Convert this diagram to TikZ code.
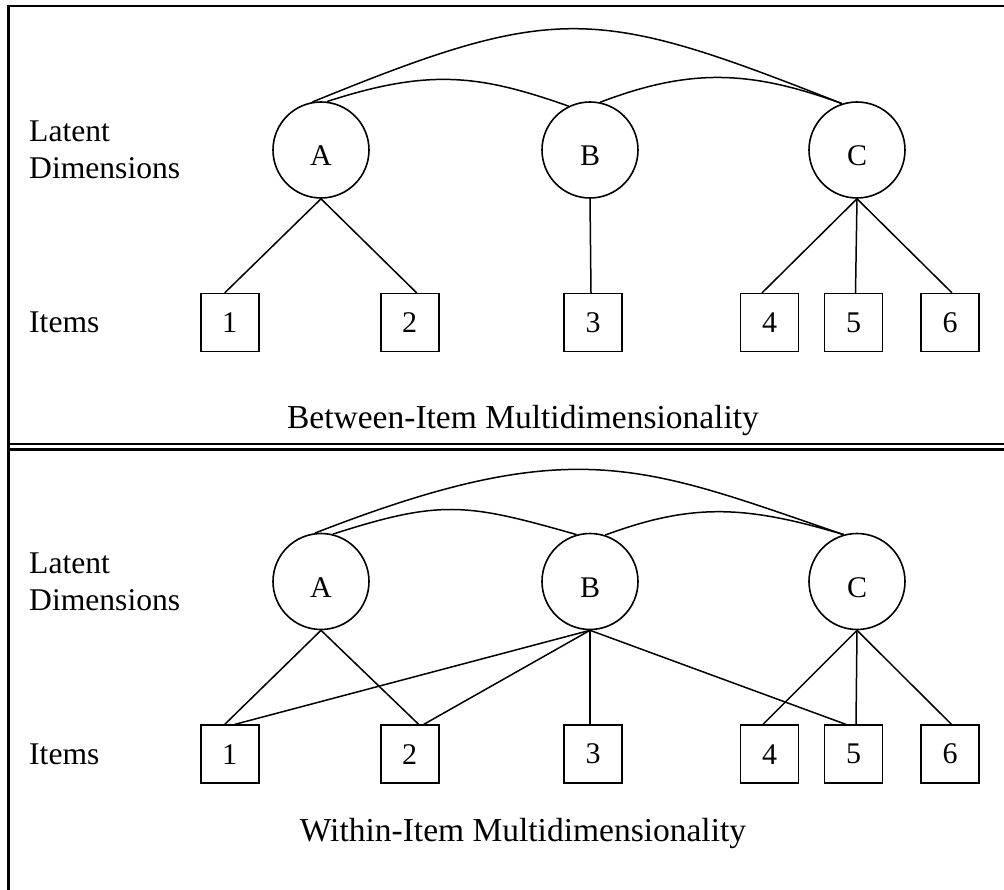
\documentclass[tikz,border=0pt]{standalone}
\usepackage{fontspec}
\setmainfont{Liberation Serif}
\begin{document}
\begin{tikzpicture}[x=1pt,y=-1pt,
  latent/.style={circle,draw,line width=1.6pt,minimum size=96pt,inner sep=0pt,text height=32pt,text depth=0pt,font=\fontsize{30}{36}\selectfont},
  itembox/.style={rectangle,draw,line width=1.6pt,minimum size=58pt,inner sep=0pt,font=\fontsize{30}{36}\selectfont},
  lbl/.style={anchor=base west,inner sep=0pt,font=\fontsize{31.6}{37.5}\selectfont},
  ttl/.style={anchor=base,inner sep=0pt,font=\fontsize{33.5}{40}\selectfont},
  link/.style={line width=1.5pt},
  framerule/.style={line width=2.5pt}]
\useasboundingbox (0,0) rectangle (1004,890);
% frame
\draw[framerule] (8.7,890) -- (8.7,6) -- (1004,6);
\draw[line width=2.3pt] (8.7,444.2) -- (1004,444.2);
\draw[line width=2.3pt] (8.7,449.5) -- (1004,449.5);

% ---------- top panel ----------
\node[lbl] (lat1) at (29,141.7) {Latent};
\node[lbl] (dim1) at (29,179) {Dimensions};
\node[lbl] (its1) at (29,333) {Items};
\node[latent] (A1) at (321,150) {A};
\node[latent] (B1) at (590,150) {B};
\node[latent] (C1) at (857,150) {C};
\node[itembox] (t1) at (229.7,322.7) {1};
\node[itembox] (t2) at (409.7,322.7) {2};
\node[itembox] (t3) at (593,322.7) {3};
\node[itembox] (t4) at (769.5,322.7) {4};
\node[itembox] (t5) at (853.5,322.7) {5};
\node[itembox] (t6) at (950,322.7) {6};
\draw[link] (A1.south) -- ([xshift=-5pt]t1.north);
\draw[link] (A1.south) -- ([xshift=7pt]t2.north);
\draw[link] (B1.south) -- ([xshift=-2pt]t3.north);
\draw[link] (C1.south) -- ([xshift=-7.5pt]t4.north);
\draw[link] (C1.south) -- ([xshift=2pt]t5.north);
\draw[link] (C1.south) -- ([xshift=2pt]t6.north);
\draw[link] (A1.100) .. controls (558,1.6) and (596,6.5) .. (C1.108);
\draw[link] (A1.83) .. controls (430,68) and (480,75) .. (B1.116);
\draw[link] (B1.78) .. controls (690,68) and (750,70) .. (C1.108);
\node[ttl] (ttl1) at (523,428.5) {Between-Item Multidimensionality};

% ---------- bottom panel ----------
\node[lbl] (lat2) at (29,573.2) {Latent};
\node[lbl] (dim2) at (29,610.5) {Dimensions};
\node[lbl] (its2) at (29,764.5) {Items};
\node[latent] (A2) at (321,581.5) {A};
\node[latent] (B2) at (590,581.5) {B};
\node[latent] (C2) at (857,581.5) {C};
\node[itembox] (u1) at (229.7,754.2) {1};
\node[itembox] (u2) at (409.7,754.2) {2};
\node[itembox] (u3) at (593,754.2) {3};
\node[itembox] (u4) at (769.5,754.2) {4};
\node[itembox] (u5) at (853.5,754.2) {5};
\node[itembox] (u6) at (950,754.2) {6};
\draw[link] (A2.south) -- ([xshift=-5pt]u1.north);
\draw[link] (A2.south) -- ([xshift=9pt]u2.north);
\draw[link] (B2.south) -- ([xshift=5pt]u1.north);
\draw[link] (B2.south) -- ([xshift=14pt]u2.north);
\draw[link] (B2.south) -- ([xshift=-3pt]u3.north);
\draw[link] (B2.south) -- ([xshift=-7.5pt]u5.north);
\draw[link] (C2.south) -- ([xshift=-6.5pt]u4.north);
\draw[link] (C2.south) -- ([xshift=2.5pt]u5.north);
\draw[link] (C2.south) -- ([xshift=1.5pt]u6.north);
\draw[link] (A2.97) .. controls (575,431.6) and (643,466) .. (C2.106);
\draw[link] (A2.76) .. controls (442,499) and (467,503.5) .. (B2.106);
\draw[link] (B2.72) .. controls (692,503) and (745,505) .. (C2.106);
\node[ttl] (ttl2) at (523,841.7) {Within-Item Multidimensionality};
\end{tikzpicture}
\end{document}
